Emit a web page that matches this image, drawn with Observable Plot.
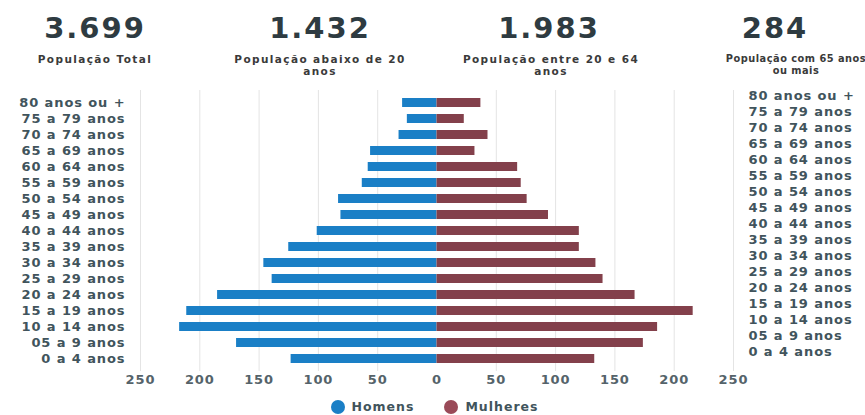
<!DOCTYPE html>
<html>
<head>
<meta charset="utf-8">
<script src="https://cdn.jsdelivr.net/npm/d3@7"></script>
<script src="https://cdn.jsdelivr.net/npm/@observablehq/plot@0.6"></script>
<style>
  html, body { margin: 0; padding: 0; background: #fff; }
  body { width: 865px; height: 415px; overflow: hidden; position: relative; font-family: "DejaVu Sans", sans-serif; }
  #stats { position: relative; height: 88px; }
  .num { position: absolute; top: 9px; width: 200px; text-align: center; font-weight: bold; font-size: 29px; line-height: 38px; letter-spacing: 2px; color: #2e3b41; }
  .lab { position: absolute; top: 53px; width: 200px; text-align: center; font-weight: bold; font-size: 10.5px; line-height: 12px; letter-spacing: 1.4px; color: #3a3a3a; }
  #chart svg { display: block; }
  #legend { display: flex; justify-content: center; gap: 30px; padding-top: 12px; padding-left: 4px; font-weight: bold; font-size: 12.5px; line-height: 14px; letter-spacing: 1px; color: #41545c; }
  .item { display: flex; align-items: center; gap: 7px; }
  .dot { width: 14px; height: 14px; border-radius: 50%; display: inline-block; }
</style>
</head>
<body>
<div id="stats"></div>
<div id="chart"></div>
<div id="legend"></div>
<script>
const ages = ["80 anos ou +","75 a 79 anos","70 a 74 anos","65 a 69 anos","60 a 64 anos","55 a 59 anos","50 a 54 anos","45 a 49 anos","40 a 44 anos","35 a 39 anos","30 a 34 anos","25 a 29 anos","20 a 24 anos","15 a 19 anos","10 a 14 anos","05 a 9 anos","0 a 4 anos"];
const homens   = [29, 25, 32, 56, 58, 63, 83, 81, 101, 125, 146, 139, 185, 211, 217, 169, 123];
const mulheres = [37, 23, 43, 32, 68, 71, 76, 94, 120, 120, 134, 140, 167, 216, 186, 174, 133];
const series = ["Homens", "Mulheres"];
const seriesColors = ["#1a7fc6", "#83404b"];
const xTicks = [-250, -200, -150, -100, -50, 0, 50, 100, 150, 200, 250];
const gridTicks = [-250, -200, -150, -100, -50, 50, 100, 150, 200, 250];

const statValues = ["3.699", "1.432", "1.983", "284"];
const statLines = [["População Total"], ["População abaixo de 20", "anos"], ["População entre 20 e 64", "anos"], ["População com 65 anos", "ou mais"]];
const numCenters = [95, 320, 549, 775];
const labCenters = [95, 320, 551, 796];

const stats = document.getElementById("stats");
statValues.forEach((v, i) => {
  const n = document.createElement("div");
  n.className = "num"; n.textContent = v;
  n.style.left = (numCenters[i] - 100) + "px";
  stats.appendChild(n);
  const l = document.createElement("div");
  l.className = "lab";
  l.style.whiteSpace = "nowrap";
  statLines[i].forEach((line, j) => {
    if (j) l.appendChild(document.createElement("br"));
    l.appendChild(document.createTextNode(line));
  });
  if (i === 3) { l.style.fontSize = "9.8px"; l.style.letterSpacing = "0.5px"; }
  l.style.left = (labCenters[i] - 100) + "px";
  stats.appendChild(l);
});

const rows = ages.flatMap((a, i) => [
  {age: a, sexo: series[0], v: -homens[i]},
  {age: a, sexo: series[1], v: mulheres[i]}
]);

const chart = Plot.plot({
  width: 865,
  height: 300,
  marginLeft: 140,
  marginRight: 132,
  marginTop: 2,
  marginBottom: 17,
  style: {fontFamily: "DejaVu Sans", fontWeight: "bold", letterSpacing: "0.9px", background: "transparent", overflow: "visible"},
  x: {domain: [-250, 250], label: null},
  y: {domain: ages, padding: 0.45, label: null},
  color: {domain: series, range: seriesColors},
  marks: [
    Plot.ruleX(gridTicks, {x: d => d, stroke: "#e4e4e4", strokeWidth: 1}),
    Plot.barX(rows, {x1: d => 0, x2: "v", y: "age", fill: "sexo"}),
    Plot.axisY({anchor: "left", tickSize: 0, tickPadding: 15, fontSize: 13, fill: "#41545c", label: null}),
    Plot.axisY({anchor: "right", tickSize: 0, tickPadding: 15, fontSize: 13, fill: "#41545c", dy: -7, label: null}),
    Plot.axisX({ticks: xTicks, tickFormat: d => Math.abs(d), tickSize: 0, tickPadding: 3, fontSize: 13, fill: "#55636a", label: null})
  ]
});
document.getElementById("chart").appendChild(chart);

const legend = document.getElementById("legend");
series.forEach((s, i) => {
  const it = document.createElement("div");
  it.className = "item";
  const d = document.createElement("span");
  d.className = "dot"; d.style.background = i === 0 ? "#1a7fc6" : "#9a4a58";
  const t = document.createElement("span");
  t.textContent = s;
  it.appendChild(d); it.appendChild(t);
  legend.appendChild(it);
});
</script>
</body>
</html>
